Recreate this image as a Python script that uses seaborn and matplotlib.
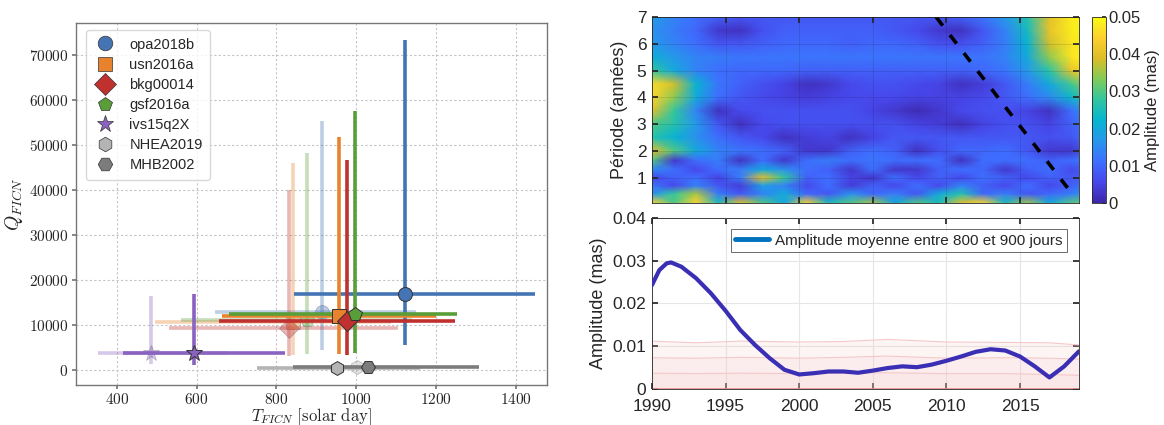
import numpy as np
import matplotlib
matplotlib.use("Agg")
import matplotlib.pyplot as plt
import seaborn as sns
from matplotlib.colors import LinearSegmentedColormap
from matplotlib.lines import Line2D
from matplotlib.ticker import FuncFormatter

# ---------------- data: left panel (FCN estimates) ----------------
names = ["opa2018b", "usn2016a", "bkg00014", "gsf2016a", "ivs15q2X", "NHEA2019", "MHB2002"]
T_main = [1122, 957, 978, 996, 593, 953, 1030]
T_low = [845, 665, 656, 681, 416, 751, 841]
T_high = [1449, 1199, 1247, 1253, 821, 1160, 1308]
Q_main = [17000, 11950, 11000, 12600, 3900, 600, 800]
Q_low = [5700, 3700, 3500, 3900, 1300, 300, 500]
Q_high = [73300, 51800, 46600, 57600, 16900, 900, 1100]

# secondary (faded) estimates
T_alt = [914, 842, 832, 878, 487, 1002]
T_alt_low = [645, 497, 530, 560, 353, 850]
T_alt_high = [1149, 1088, 1106, 1140, 676, 1150]
Q_alt = [12900, 10800, 9400, 11200, 3900, 700]
Q_alt_low = [4500, 3500, 3150, 3700, 1500, 400]
Q_alt_high = [55200, 45900, 40000, 48200, 16500, 1000]

# ---------------- data: wavelet amplitude map (x 0.001 mas) ----------------
hm_years = [1990, 1991.5, 1993, 1994.5, 1996, 1997.5, 1999, 2000.5, 2002, 2003.5,
            2005, 2006.5, 2008, 2009.5, 2011, 2012.5, 2014, 2015.5, 2017, 2018.5, 2020]
hm_periods = [0.05, 0.4, 0.7, 1.0, 1.3, 1.65, 2.0, 2.5, 3.0, 3.5, 4.0, 4.5, 5.0, 5.5, 6.0, 6.5, 7.0]
amp_grid = [
    [45, 30, 45, 25, 40, 30, 20, 45, 25, 30, 35, 20, 30, 25, 40, 45, 25, 35, 20, 30, 35],
    [16, 28, 36, 13, 8, 14, 20, 10, 8, 16, 10, 13, 8, 20, 26, 10, 13, 8, 10, 13, 20],
    [12, 6, 14, 8, 4, 18, 14, 6, 11, 4, 9, 6, 11, 6, 14, 9, 6, 11, 6, 9, 14],
    [6, 9, 11, 5, 13, 40, 28, 9, 11, 5, 3, 11, 6, 9, 6, 11, 9, 6, 9, 8, 10],
    [15, 11, 6, 11, 13, 20, 16, 11, 9, 3, 11, 3, 3, 9, 11, 10, 3, 9, 11, 6, 10],
    [30, 3, 11, 13, 2, 11, 3, 11, 13, 11, 12, 11, 11, 11, 2, 11, 11, 11, 9, 11, 13],
    [40, 30, 20, 14, 12, 11, 9, 3, 3, 9, 11, 9, 2, 7, 10, 10, 11, 8, 3, 3, 11],
    [26, 22, 16, 11, 8, 6, 2, 4, 5, 2, 5, 8, 8, 8, 8, 8, 8, 8, 7, 8, 12],
    [30, 26, 17, 8, 2, 6, 7, 7, 7, 7, 7, 7, 5, 4, 2, 5, 7, 7, 5, 9, 15],
    [40, 28, 14, 2, 6, 7, 7, 7, 7, 7, 5, 3, 1, 3, 6, 7, 7, 5, 2, 11, 20],
    [45, 34, 20, 11, 8, 6, 5, 4, 5, 6, 6, 6, 5, 5, 5, 6, 8, 11, 15, 23, 30],
    [46, 38, 22, 12, 9, 7, 5, 2, 3, 6, 7, 7, 6, 5, 2, 4, 8, 13, 20, 29, 38],
    [28, 20, 14, 11, 10, 10, 10, 9, 9, 9, 9, 9, 9, 9, 9, 10, 12, 17, 27, 41, 48],
    [21, 17, 14, 13, 12, 12, 12, 12, 12, 12, 12, 12, 12, 12, 12, 12, 14, 20, 34, 47, 50],
    [17, 14, 11, 8, 8, 9, 10, 10, 10, 9, 10, 10, 9, 7, 7, 9, 13, 22, 38, 47, 50],
    [16, 13, 10, 3, 2, 7, 9, 9, 9, 9, 9, 8, 6, 3, 2, 8, 14, 24, 41, 48, 50],
    [18, 14, 11, 9, 8, 8, 8, 8, 8, 8, 8, 8, 8, 8, 9, 12, 17, 26, 40, 48, 50],
]
coi_years = [2009.3, 2018.6]
coi_periods = [7.0, 0.35]

# ---------------- data: mean amplitude 800-900 days ----------------
curve_years = [1990, 1990.5, 1991, 1991.3, 1992, 1993, 1994, 1995, 1996, 1997, 1998, 1999,
               2000, 2001, 2002, 2003, 2004, 2005, 2006, 2007, 2008, 2009, 2010,
               2011, 2012, 2013, 2014, 2015, 2016, 2017, 2018, 2019]
curve_amp = [0.0243, 0.0278, 0.0294, 0.0296, 0.0286, 0.0259, 0.0224, 0.0183, 0.0138, 0.0103,
             0.0072, 0.0045, 0.0034, 0.0037, 0.0041, 0.0041, 0.0038, 0.0043, 0.0049,
             0.0053, 0.0051, 0.0057, 0.0066, 0.0076, 0.0087, 0.0093, 0.0090, 0.0076,
             0.0053, 0.0027, 0.0053, 0.0088]
band_years = [1990, 1993, 1996, 2000, 2003, 2006, 2010, 2014, 2017, 2019]
band_high = [0.0112, 0.0108, 0.0112, 0.0110, 0.0111, 0.0116, 0.0110, 0.0109, 0.0108, 0.0103]
band_mid = [0.0073, 0.0072, 0.0074, 0.0072, 0.0074, 0.0077, 0.0072, 0.0073, 0.0072, 0.0070]
band_low = [0.0037, 0.0036, 0.0037, 0.0036, 0.0037, 0.0038, 0.0036, 0.0036, 0.0034, 0.0032]

# ---------------- styling ----------------
sns.set_theme(style="white")
plt.rcParams["font.family"] = ["Liberation Sans", "DejaVu Sans"]
plt.rcParams["mathtext.fontset"] = "cm"

colors = ["#4474b4", "#e8822c", "#c0302f", "#5a9e3a", "#8a62c0", "#b4b4b4", "#7c7c7c"]
markers = ["o", "s", "D", "p", "*", "h", "H"]
msizes = [10, 9.5, 10.5, 10, 12, 10, 10]

fig = plt.figure(figsize=(11.64, 4.25), dpi=100)

# ================= left panel =================
ax1 = fig.add_axes([0.0653, 0.0935, 0.4046, 0.8524])
ax1.grid(True, ls=(0, (2, 2)), color="#c4c4c4", lw=0.8)
ax1.set_axisbelow(True)

for i in range(len(T_alt)):
    ax1.errorbar(T_alt[i], Q_alt[i],
                 xerr=[[T_alt[i] - T_alt_low[i]], [T_alt_high[i] - T_alt[i]]],
                 yerr=[[Q_alt[i] - Q_alt_low[i]], [Q_alt_high[i] - Q_alt[i]]],
                 fmt=markers[i], color=colors[i], ecolor=colors[i], elinewidth=2.6,
                 capsize=0, markersize=msizes[i], markeredgecolor="#555555",
                 markeredgewidth=0.6, alpha=0.35, zorder=2)

for i in range(len(names)):
    ax1.errorbar(T_main[i], Q_main[i],
                 xerr=[[T_main[i] - T_low[i]], [T_high[i] - T_main[i]]],
                 yerr=[[Q_main[i] - Q_low[i]], [Q_high[i] - Q_main[i]]],
                 fmt=markers[i], color=colors[i], ecolor=colors[i], elinewidth=2.6,
                 capsize=0, markersize=msizes[i], markeredgecolor="#333333",
                 markeredgewidth=0.7, zorder=3 + i * 0.01)

ax1.set_xlim(298, 1478)
ax1.set_ylim(-3300, 77000)
ax1.set_xticks([400, 600, 800, 1000, 1200, 1400])
ax1.set_yticks(list(range(0, 70001, 10000)))
fmt = FuncFormatter(lambda v, p: "$%d$" % int(round(v)))
ax1.xaxis.set_major_formatter(fmt)
ax1.yaxis.set_major_formatter(fmt)
ax1.tick_params(labelsize=11, length=3, color="#777777", direction="out",
                bottom=True, left=True, pad=2.5)
ax1.tick_params(axis="x", pad=2)
for s in ax1.spines.values():
    s.set_color("#777777")
    s.set_linewidth(1.0)
ax1.set_xlabel(r"$T_{FICN}\ \mathrm{[solar\ day]}$", fontsize=12, labelpad=-1)
ax1.set_ylabel(r"$Q_{FICN}$", fontsize=14, labelpad=3)

handles = [Line2D([], [], ls="none", marker=markers[i], color=colors[i],
                  markersize=msizes[i] + 0.5, markeredgecolor="#333333", markeredgewidth=0.5)
           for i in range(len(names))]
leg1 = ax1.legend(handles, names, loc="upper left", frameon=True,
                  labelspacing=0.42, handletextpad=0.9, handlelength=1.6, borderpad=0.5,
                  bbox_to_anchor=(0.005, 1.0),
                  prop={"family": ["Liberation Sans Narrow", "Liberation Sans"], "size": 10.5})
leg1.get_frame().set_edgecolor("#d0d0d0")

# ================= top right: wavelet map =================
parula = LinearSegmentedColormap.from_list(
    "parula", [(0.2422, 0.1504, 0.6603), (0.2803, 0.2782, 0.9221), (0.2440, 0.4358, 0.9988),
               (0.1540, 0.5902, 0.9218), (0.0297, 0.7082, 0.8163), (0.1938, 0.7758, 0.6251),
               (0.5044, 0.7993, 0.3480), (0.8634, 0.7406, 0.1596), (0.9892, 0.8136, 0.1885),
               (0.9769, 0.9839, 0.0805)])
ax2 = fig.add_axes([0.5601, 0.5224, 0.3668, 0.4376])
X, Y = np.meshgrid(hm_years, hm_periods)
C = np.array(amp_grid, dtype=float) * 0.001
mesh = ax2.pcolormesh(X, Y, C, shading="gouraud", cmap=parula, vmin=0, vmax=0.05,
                      rasterized=True)
ax2.plot(coi_years, coi_periods, color="black", lw=2.6, ls=(0, (3, 3.3)))
ax2.set_xlim(1990, 2019)
ax2.set_ylim(0.05, 7)
ax2.set_yticks([1, 2, 3, 4, 5, 6, 7])
ax2.set_xticks([1995, 2000, 2005, 2010, 2015])
ax2.set_xticklabels([])
ax2.grid(True, color="black", alpha=0.12, lw=0.6)
ax2.set_axisbelow(False)
ax2.tick_params(direction="in", length=4, top=True, right=True, left=True, bottom=True,
                labelsize=12.5, colors="#262626", pad=4)
for s in ax2.spines.values():
    s.set_color("#262626")
    s.set_linewidth(0.6)
ax2.set_ylabel("Période (années)", fontsize=13, color="#262626", labelpad=6)

cax = fig.add_axes([0.9381, 0.5224, 0.012, 0.4376])
cb = fig.colorbar(mesh, cax=cax, ticks=[0, 0.01, 0.02, 0.03, 0.04, 0.05])
cb.ax.set_yticklabels(["0", "0.01", "0.02", "0.03", "0.04", "0.05"])
cb.ax.tick_params(labelsize=12, direction="in", length=3, colors="#262626", pad=1.5)
cb.outline.set_linewidth(0.6)
cb.set_label("Amplitude (mas)", fontsize=12, color="#262626", labelpad=3)

# ================= bottom right: mean amplitude =================
ax3 = fig.add_axes([0.5601, 0.0847, 0.3668, 0.4024])
ax3.grid(True, color="#e6e6e6", lw=0.8)
ax3.set_axisbelow(True)
pink = "#f4c4c4"
ax3.fill_between(band_years, 0, band_high, color=pink, alpha=0.18, lw=0)
ax3.fill_between(band_years, 0, band_mid, color=pink, alpha=0.13, lw=0)
ax3.fill_between(band_years, 0, band_low, color=pink, alpha=0.13, lw=0)
for b in (band_high, band_mid, band_low):
    ax3.plot(band_years, b, color="#f4c8c8", lw=0.8)
ax3.axhline(0.00005, color="#f08a8a", lw=1.2)
sns.lineplot(x=curve_years, y=curve_amp, ax=ax3, color="#3a2fb4", lw=3.0, legend=False,
             zorder=5)
ax3.set_xlim(1990, 2019)
ax3.set_ylim(0, 0.04)
ax3.set_xticks([1990, 1995, 2000, 2005, 2010, 2015])
ax3.set_yticks([0, 0.01, 0.02, 0.03, 0.04])
ax3.set_yticklabels(["0", "0.01", "0.02", "0.03", "0.04"])
ax3.tick_params(direction="in", length=4, top=True, right=True, left=True, bottom=True,
                labelsize=12.5, colors="#262626", pad=4)
ax3.tick_params(axis="x", pad=7)
for s in ax3.spines.values():
    s.set_color("#262626")
    s.set_linewidth(0.6)
ax3.set_ylabel("Amplitude (mas)", fontsize=13, color="#262626", labelpad=4)
ax3.set_xlabel("")
leg3 = ax3.legend([Line2D([], [], color="#0072bd", lw=3.5)],
                  ["Amplitude moyenne entre 800 et 900 jours"],
                  loc="upper right", fontsize=11, frameon=True, fancybox=False,
                  handlelength=2.2, handletextpad=0.4, borderpad=0.3,
                  bbox_to_anchor=(0.99, 0.98))
leg3.get_frame().set_edgecolor("#262626")
leg3.get_frame().set_linewidth(0.6)

fig.savefig("out.png", dpi=100)
